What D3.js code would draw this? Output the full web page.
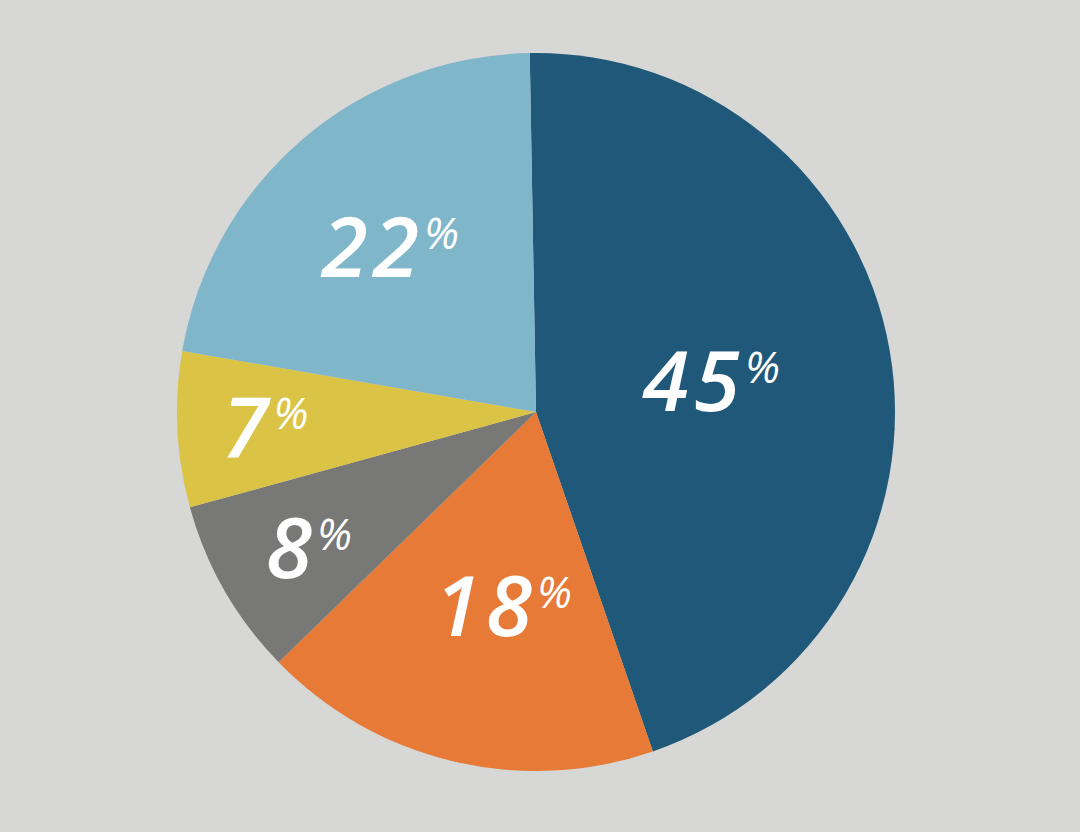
<!DOCTYPE html>
<html>
<head>
<meta charset="utf-8">
<script src="https://cdn.jsdelivr.net/npm/d3@7"></script>
<style>
  html, body { margin: 0; padding: 0; background: #d7d7d5; }
  svg { display: block; }
</style>
</head>
<body>
<svg id="chart" width="1080" height="832"></svg>
<script>
// Data
const categories = ["A", "B", "C", "D", "E"];
const values = [45, 18, 8, 7, 22];
const labels = ["45", "18", "8", "7", "22"];
const colors = ["#1f5878", "#e67a36", "#787876", "#dbc346", "#80b6c9"];

// Layout constants
const W = 1080, H = 832;
const cx = 536, cy = 412, R = 359;
const startDeg = -1;
const labelRadius = [178, 197, 265, 271, 220];
const labelNudgeDeg = [0, -3.8, -1.2, -0.4, -0.9];

const svg = d3.select("#chart");
svg.append("rect").attr("width", W).attr("height", H).attr("fill", "#d7d7d5");

const g = svg.append("g").attr("transform", `translate(${cx},${cy})`);

const toRad = d => d * Math.PI / 180;
const pie = d3.pie().sort(null).value(d => d)
  .startAngle(toRad(startDeg)).endAngle(toRad(startDeg) + 2 * Math.PI);
const arcs = pie(values);
const arc = d3.arc().innerRadius(0).outerRadius(R);

g.selectAll("path.slice").data(arcs).enter().append("path")
  .attr("class", "slice")
  .attr("d", arc)
  .attr("fill", (d, i) => colors[i]);

const txt = g.selectAll("text.lbl").data(arcs).enter().append("text")
  .attr("class", "lbl")
  .attr("text-anchor", "middle")
  .attr("fill", "#ffffff")
  .style("font-family", "'Open Sans', 'Noto Sans', sans-serif")
  .style("font-style", "italic")
  .style("font-weight", 600)
  .style("font-size", "84px")
  .attr("x", (d, i) => {
    const a = (d.startAngle + d.endAngle) / 2 + toRad(labelNudgeDeg[i]);
    return labelRadius[i] * Math.sin(a);
  })
  .attr("y", (d, i) => {
    const a = (d.startAngle + d.endAngle) / 2 + toRad(labelNudgeDeg[i]);
    return -labelRadius[i] * Math.cos(a) + 30;
  });

txt.append("tspan").style("letter-spacing", "5px").text((d, i) => labels[i]);
txt.append("tspan")
  .style("font-size", "44px")
  .style("font-weight", 400)
  .attr("dy", -28)
  .text("%");
</script>
</body>
</html>
